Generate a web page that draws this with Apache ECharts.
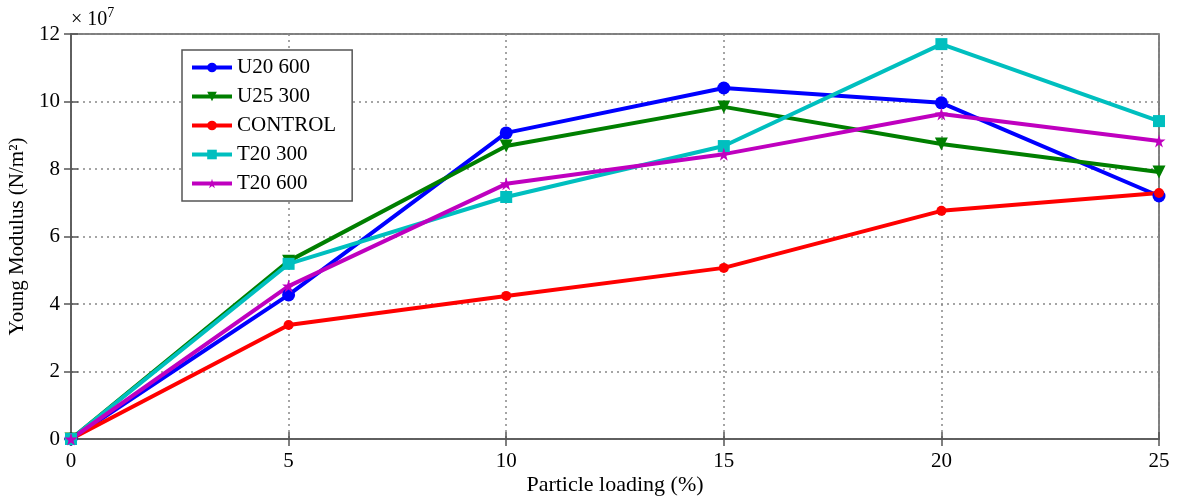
<!DOCTYPE html>
<html><head><meta charset="utf-8">
<script src="https://cdn.jsdelivr.net/npm/echarts@6/dist/echarts.min.js"></script>
<style>html,body{margin:0;padding:0;background:#fff}#c{width:1181px;height:497px}</style>
</head><body><div id="c"></div>
<script>
const loading = [0, 5, 10, 15, 20, 25];
const seriesNames = ['U20 600', 'U25 300', 'CONTROL', 'T20 300', 'T20 600'];
const u20_600 = [0, 4.27, 9.07, 10.40, 9.96, 7.20];
const u25_300 = [0, 5.27, 8.68, 9.84, 8.74, 7.91];
const control = [0, 3.38, 4.24, 5.07, 6.76, 7.29];
const t20_300 = [0, 5.19, 7.17, 8.68, 11.70, 9.42];
const t20_600 = [0, 4.53, 7.56, 8.44, 9.63, 8.83];
const yTicks = [0, 2, 4, 6, 8, 10, 12];
const xTicks = [0, 5, 10, 15, 20, 25];

const FONT = 'Liberation Serif';
const axisCol = '#555';
const star = 'path://M50,0 L61,35 L98,35 L68,57 L79,91 L50,70 L21,91 L32,57 L2,35 L39,35 Z';
const styles = [
  {color: '#0000ff', symbol: 'circle', size: 13, rot: 0},
  {color: '#007f00', symbol: 'triangle', size: 13, rot: 180},
  {color: '#ff0000', symbol: 'circle', size: 10, rot: 0},
  {color: '#00bfbf', symbol: 'rect', size: 12, rot: 0},
  {color: '#bf00bf', symbol: star, size: 13, rot: 0}
];
const data = [u20_600, u25_300, control, t20_300, t20_600];

const chart = echarts.init(document.getElementById('c'));
const gridLine = {show: true, lineStyle: {color: '#888', type: [2, 4], width: 1.5}};
chart.setOption({
  animation: false,
  grid: {left: 71, right: 22, top: 34, bottom: 58, show: true, borderColor: axisCol, borderWidth: 1.5,
         containLabel: false, outerBoundsMode: 'none'},
  legend: {
    left: 182, top: 50, orient: 'vertical', itemWidth: 40, itemHeight: 12, itemGap: 8,
    borderColor: axisCol, borderWidth: 1.5, padding: [7, 16, 7, 8], backgroundColor: '#fff',
    textStyle: {fontFamily: FONT, fontSize: 21, color: '#000'},
    lineStyle: {width: 4},
    data: seriesNames
  },
  xAxis: [{
    type: 'value', min: 0, max: 25, interval: 5,
    name: 'Particle loading (%)', nameLocation: 'middle', nameGap: 35, nameMoveOverlap: false,
    nameTextStyle: {fontFamily: FONT, fontSize: 22, color: '#000'},
    axisLine: {lineStyle: {color: axisCol, width: 1.5}},
    axisTick: {inside: true, length: 7, lineStyle: {color: axisCol, width: 1.5}},
    axisLabel: {fontFamily: FONT, fontSize: 21, color: '#000', margin: 12,
      formatter: v => xTicks.includes(v) ? String(v) : ''},
    splitLine: gridLine
  }, {
    type: 'value', position: 'top', min: 0, max: 25, interval: 5,
    axisLine: {show: false}, axisLabel: {show: false}, splitLine: {show: false},
    axisTick: {inside: true, length: 7, lineStyle: {color: axisCol, width: 1.5}}
  }],
  yAxis: [{
    type: 'value', min: 0, max: 12, interval: 2,
    name: 'Young Modulus (N/m²)', nameLocation: 'middle', nameGap: 43, nameRotate: 90, nameMoveOverlap: false,
    nameTextStyle: {fontFamily: FONT, fontSize: 21, color: '#000'},
    axisLine: {show: true, lineStyle: {color: axisCol, width: 1.5}},
    axisTick: {show: true, inside: true, length: 7, lineStyle: {color: axisCol, width: 1.5}},
    axisLabel: {fontFamily: FONT, fontSize: 21, color: '#000', margin: 11,
      formatter: v => yTicks.includes(v) ? String(v) : ''},
    splitLine: gridLine
  }, {
    type: 'value', position: 'right', min: 0, max: 12, interval: 2,
    axisLine: {show: false}, axisLabel: {show: false}, splitLine: {show: false},
    axisTick: {show: true, inside: true, length: 7, lineStyle: {color: axisCol, width: 1.5}}
  }],
  graphic: [{
    type: 'text', left: 71, top: 6,
    style: {
      text: '{a|× 10}{s|7}', fontFamily: FONT,
      rich: {a: {fontFamily: FONT, fontSize: 20, fill: '#000', verticalAlign: 'bottom'},
             s: {fontFamily: FONT, fontSize: 14, fill: '#000', verticalAlign: 'top', padding: [0, 0, 10, 0]}}
    }
  }],
  series: seriesNames.map((n, i) => ({
    name: n, type: 'line', xAxisIndex: 0, yAxisIndex: 0,
    data: loading.map((x, j) => [x, data[i][j]]),
    symbol: styles[i].symbol, symbolSize: styles[i].size, symbolRotate: styles[i].rot,
    showAllSymbol: true, clip: false,
    itemStyle: {color: styles[i].color},
    lineStyle: {color: styles[i].color, width: 4}
  }))
});
</script></body></html>
